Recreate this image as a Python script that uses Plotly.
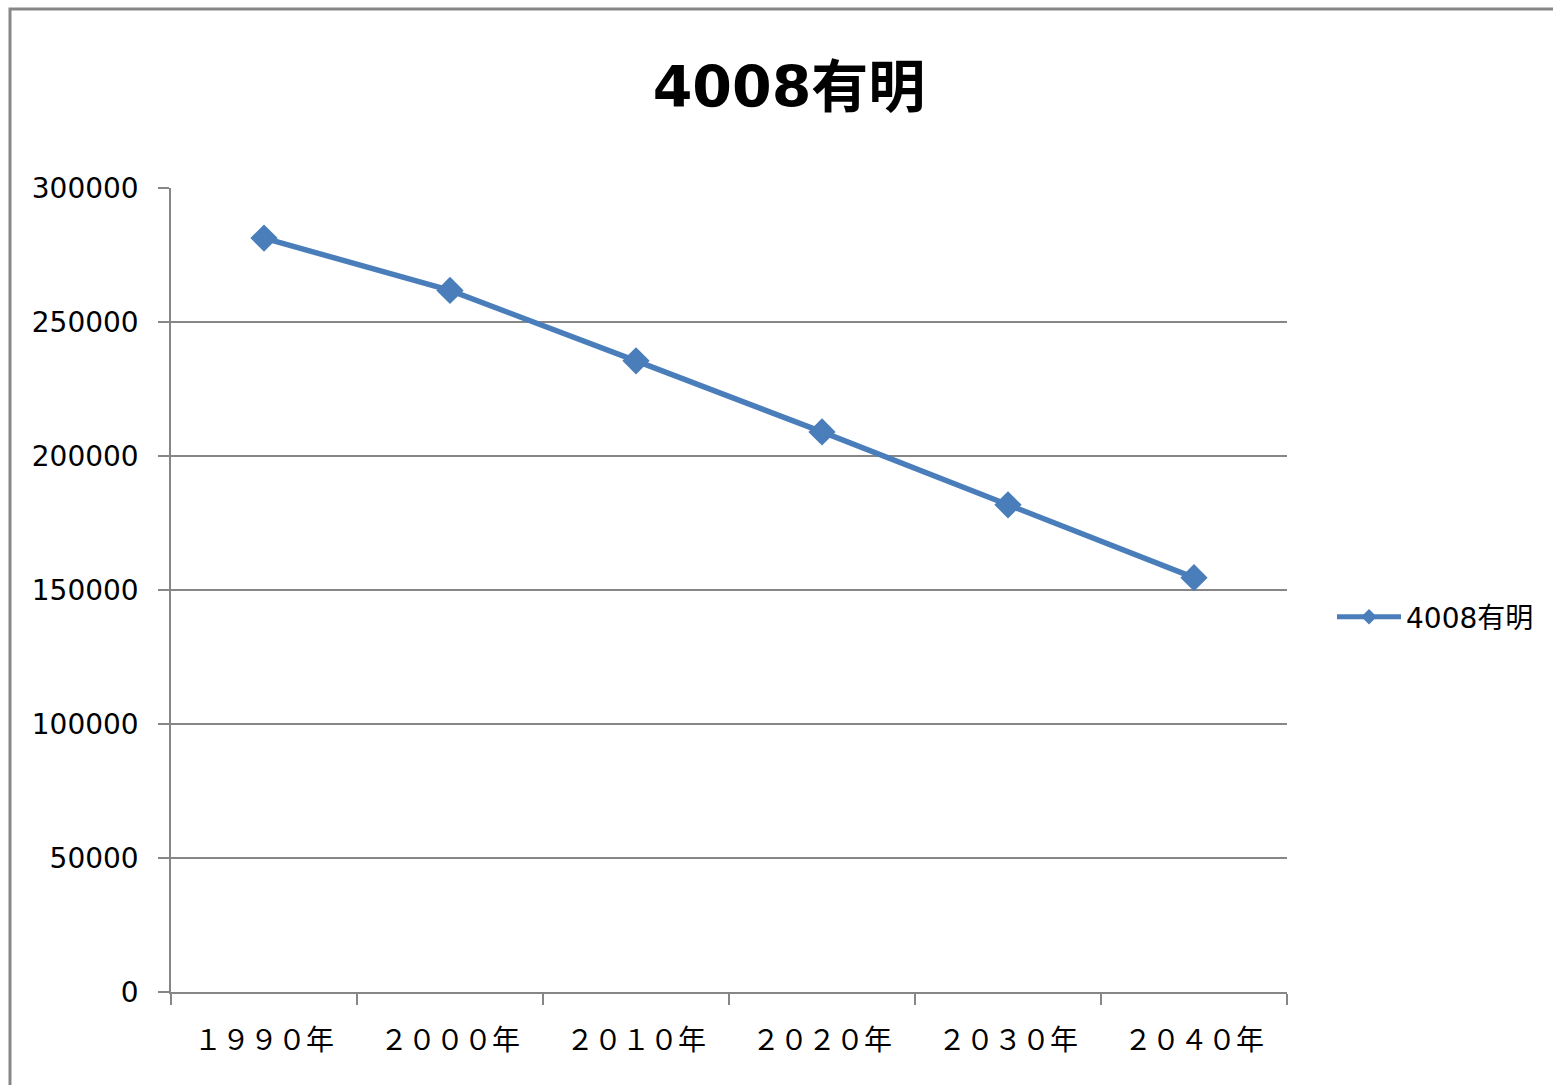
import plotly.graph_objects as go

categories = ["１９９０年", "２０００年", "２０１０年", "２０２０年", "２０３０年", "２０４０年"]
values = [281300, 261800, 235500, 209000, 181800, 154600]
series_name = "4008有明"
y_ticks = [0, 50000, 100000, 150000, 200000, 250000, 300000]

W, H = 1553, 1085
L, R, T, B = 171, 1287, 188, 992
pw, ph = R - L, B - T

def px(x):
    return (x - L) / pw

def py(y):
    return (B - y) / ph

fig = go.Figure()
fig.add_trace(go.Scatter(
    x=categories, y=values, name=series_name, mode="lines+markers",
    line=dict(color="#4A7EBB", width=5.5),
    marker=dict(symbol="diamond", size=21, color="#4A7EBB"),
))

grid = "#868686"
fig.update_layout(
    width=W, height=H,
    margin=dict(l=L, r=W - R, t=T, b=H - B),
    paper_bgcolor="white", plot_bgcolor="white",
    title=dict(text="<b>4008有明</b>", x=789 / W, xref="container", xanchor="center",
               y=1 - 87 / H, yref="container", yanchor="middle",
               font=dict(family="DejaVu Sans, Noto Sans CJK JP", size=57, color="black")),
    showlegend=True,
    legend=dict(x=px(1332), y=py(617), xanchor="left", yanchor="middle",
                itemwidth=64, itemsizing="constant",
                font=dict(family="DejaVu Sans, Noto Sans CJK JP", size=28, color="black"),
                bgcolor="rgba(0,0,0,0)"),
    xaxis=dict(type="category", range=[-0.5, 5.5], tickson="boundaries",
               showgrid=False, showline=True, linecolor=grid, linewidth=1.5,
               ticks="outside", ticklen=11, tickcolor=grid, tickwidth=1.5,
               ticklabelstandoff=23,
               tickfont=dict(family="Noto Sans CJK JP", size=28, color="black")),
    yaxis=dict(range=[0, 300000], tickvals=y_ticks, ticktext=[str(v) for v in y_ticks],
               showgrid=True, gridcolor=grid, gridwidth=1.5,
               showline=True, linecolor=grid, linewidth=1.5, zeroline=False,
               ticks="outside", ticklen=11, tickcolor=grid, tickwidth=1.5,
               ticklabelstandoff=14,
               tickfont=dict(family="DejaVu Sans", size=28, color="black")),
)

# chart frame (left and top edges visible)
fig.add_shape(type="path", xref="paper", yref="paper",
              path=f"M {px(10)} {py(1100)} L {px(10)} {py(9)} L {px(1570)} {py(9)}",
              line=dict(color="#878787", width=3))

fig.write_html("out.html")
